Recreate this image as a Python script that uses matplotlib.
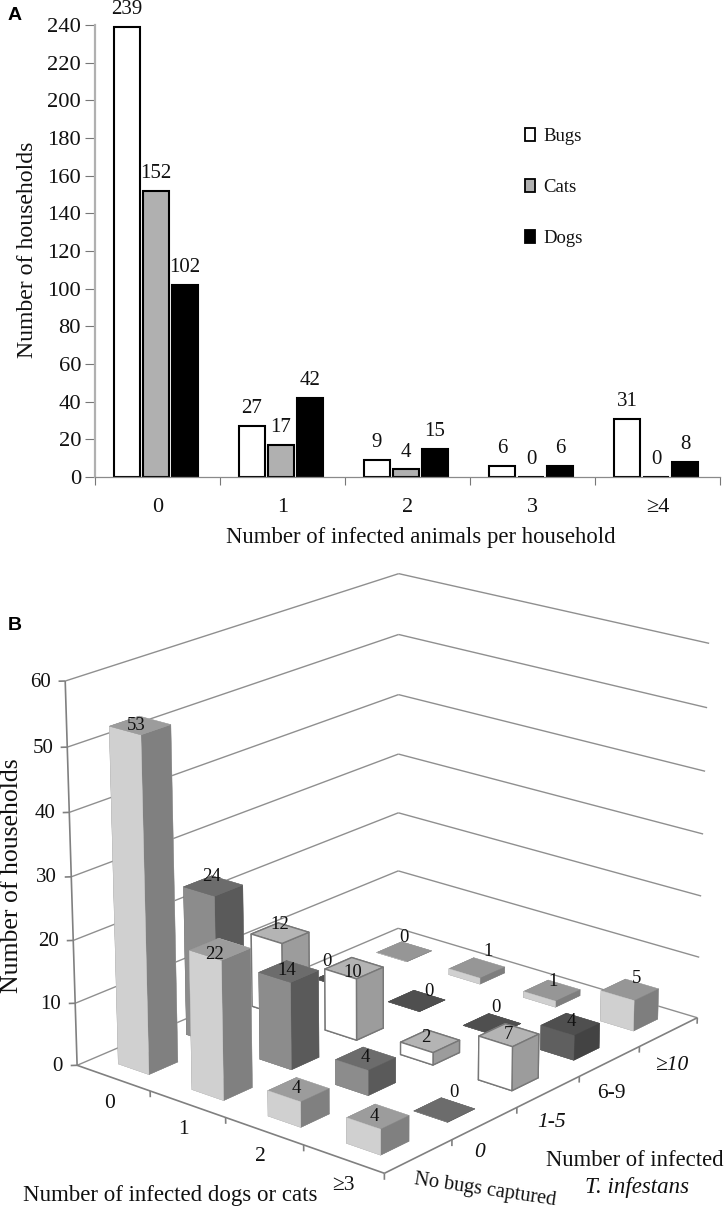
import numpy as np
import matplotlib
matplotlib.use("Agg")
import matplotlib.pyplot as plt
from matplotlib.patches import Patch
from mpl_toolkits.mplot3d.art3d import Line3DCollection

plt.rcParams['font.family'] = ['Liberation Serif', 'DejaVu Serif']

# ---------- Panel A data ----------
a_categories = ['0', '1', '2', '3', '≥4']
a_bugs = [239, 27, 9, 6, 31]
a_cats = [152, 17, 4, 0, 0]
a_dogs = [102, 42, 15, 6, 8]
a_yticks = list(range(0, 241, 20))

# ---------- Panel B data ----------
b_animals = ['0', '1', '2', '≥3']
b_bugs = ['No bugs captured', '0', '1-5', '6-9', '≥10']
b_no_bugs = [53, 22, 4, 4]
b_zero = [24, 14, 4, 0]
b_1_5 = [12, 10, 2, 7]
b_6_9 = [0, 0, 0, 4]
b_10_up = [0, 1, 1, 5]
b_ticks = [0, 10, 20, 30, 40, 50, 60]

# Camera calibration for panel B: (animal axis, bug axis, households) -> image pixel
cal_world = [(0, 0, 0), (4, 0, 0), (4, 5, 0), (0, 5, 0),
             (0, 0, 60), (0, 5, 60), (4, 5, 60),
             (1, 0, 0), (2, 0, 0), (3, 0, 0),
             (4, 1, 0), (4, 2, 0), (4, 3, 0), (4, 4, 0)]
cal_pixel = [(77, 1064), (384, 1171), (697, 1017), (398, 928),
             (65, 681), (399, 574), (709, 643),
             (150, 1092), (226, 1118), (304, 1146),
             (452, 1140), (517, 1108), (579, 1077), (640, 1047)]

W, H = 725, 1212
fig = plt.figure(figsize=(W / 100, H / 100), dpi=100)
GRAY = '#8f8f8f'
INK = '#111111'


def px(x, y):
    return x / W, 1 - y / H


# ---------- Panel A ----------
ax = fig.add_axes([95 / W, 1 - 477 / H, 625 / W, 452 / H])
xs = np.arange(len(a_categories))
step, bw = 0.232, 0.215
series = [(a_bugs, 'white', 'Bugs'), (a_cats, '#b0b0b0', 'Cats'), (a_dogs, 'black', 'Dogs')]
for k, (vals, col, _) in enumerate(series):
    pos = xs - 0.012 + (k - 1) * step
    ax.bar(pos, vals, bw, color=col, edgecolor='black', linewidth=1.5)
    for p, v in zip(pos, vals):
        ax.annotate(str(v), (p, v), xytext=(0, 12.4), textcoords='offset points',
                    ha='center', va='center', fontsize=15, color=INK,
                    annotation_clip=False)
ax.set_xlim(-0.5, 4.5)
ax.set_ylim(0, 240)
for s in ['top', 'right']:
    ax.spines[s].set_visible(False)
ax.spines['left'].set_color('#b0b0b0')
ax.spines['left'].set_linewidth(1.6)
ax.spines['bottom'].set_color('#8a8a8a')
ax.spines['bottom'].set_linewidth(0.9)
ax.set_yticks(a_yticks)
ax.tick_params(axis='y', length=7, width=0.8, color='#777777', labelsize=16.2, pad=3, labelcolor=INK)
ax.set_xticks(np.arange(-0.5, 5, 1))
ax.set_xticklabels([])
ax.tick_params(axis='x', which='major', length=6, width=0.8, color='#777777')
ax.set_xticks(xs, minor=True)
ax.set_xticklabels(a_categories, minor=True)
ax.tick_params(axis='x', which='minor', length=0, labelsize=16, pad=15, labelcolor=INK)
ax.set_ylabel('Number of households', fontsize=17.1, labelpad=0, color=INK)
ax.yaxis.set_label_coords(-57 / 625, 227 / 452)
ax.set_xlabel('Number of infected animals per household', fontsize=16.4, color=INK)
ax.xaxis.set_label_coords((421 - 95) / 625, -(527 - 477) / 452)
handles = [Patch(facecolor=c, edgecolor='black', linewidth=1.3, label=l) for _, c, l in series]
ax.legend(handles=handles, loc='center left', bbox_to_anchor=((525 - 95) / 625, (477 - 187.5) / 452),
          frameon=False, fontsize=13.5, handlelength=0.55, handleheight=0.7, handletextpad=0.45,
          labelspacing=1.81, borderpad=0, borderaxespad=0, labelcolor=INK)
fig.text(*px(8, 15), 'A', family='Liberation Sans', weight='bold', fontsize=14, va='center', ha='left')
fig.text(*px(8, 625), 'B', family='Liberation Sans', weight='bold', fontsize=14, va='center', ha='left')

# ---------- Panel B ----------
ax3 = fig.add_axes([0, 0, 1, W / H], projection='3d', computed_zorder=False)
ax3.set_axis_off()
ax3.patch.set_visible(False)
ax3.set_xlim(0, 4)
ax3.set_ylim(0, 5)
ax3.set_zlim(0, 60)
ax3.set_xticks([])
ax3.set_yticks([])
ax3.set_zticks([])

# Solve the camera from the calibration points
rows = []
for (X, Y, Z), (x, y) in zip(cal_world, cal_pixel):
    v = [X, Y, Z, 1]
    rows.append(v + [0, 0, 0, 0] + [-x * c for c in v])
    rows.append([0, 0, 0, 0] + v + [-y * c for c in v])
P = np.linalg.svd(np.array(rows, float))[2][-1].reshape(3, 4)
P = P / (P[2] @ np.array([2, 2.5, 0, 1]))


def project_matrix():
    Q = np.vstack([P[0], H * P[2] - P[1], P[2] - np.array([0, 0, 0, 0.5]), P[2]])
    A = ax3.transData.get_affine().inverted().get_matrix()
    to_view = np.array([[A[0, 0], A[0, 1], 0, A[0, 2]],
                        [A[1, 0], A[1, 1], 0, A[1, 2]],
                        [0, 0, 1, 0],
                        [0, 0, 0, 1]])
    return to_view @ Q


ax3.get_proj = project_matrix


def label3d(u, v, w, s, dx=0, dy=0, **kw):
    """Text at a point of the 3D scene, nudged by (dx, dy) image pixels."""
    kw.setdefault('ha', 'center')
    kw.setdefault('va', 'center')
    kw.setdefault('color', INK)
    q = P @ np.array([u, v, w, 1.0])
    fig.text(*px(q[0] / q[2] + dx, q[1] / q[2] + dy), s, **kw)


def lines3d(segments, color, lw):
    ax3.add_collection3d(Line3DCollection(segments, colors=color, linewidths=lw, zorder=1), autolim=False)


nU, nV = len(b_animals), len(b_bugs)
grid_segments = []
tick_segments = []
tick_reach = 0.045
for t in b_ticks:
    grid_segments.append([(0, 0, t), (0, nV, t)])
    grid_segments.append([(0, nV, t), (nU, nV, t)])
    tick_segments.append([(-tick_reach, -tick_reach, t), (0, 0, t)])
    label3d(0, 0, t, str(t), dx=-14, dy=1, ha='right', fontsize=15)
lines3d(grid_segments, GRAY, 1.0)
axis_segments = [[(0, 0, 0), (0, 0, 60)], [(0, 0, 0), (nU, 0, 0)], [(nU, 0, 0), (nU, nV, 0)]]
for i in range(1, nU + 1):
    tick_segments.append([(i, 0, 0), (i, 0, -1)])
for j in range(1, nV + 1):
    tick_segments.append([(nU, j, 0), (nU, j, -1)])
lines3d(axis_segments + tick_segments, '#808080', 1.2)

columns = [b_no_bugs, b_zero, b_1_5, b_6_9, b_10_up]
# colours by bug class: top, side facing left, side facing right
col_top = ['#9c9c9c', '#6c6c6c', '#b4b4b4', '#4f4f4f', '#969696']
col_left = ['#d0d0d0', '#8c8c8c', '#ffffff', '#5f5f5f', '#d0d0d0']
col_right = ['#808080', '#5a5a5a', '#9c9c9c', '#434343', '#7e7e7e']
side = 0.42
z = 10
# per-label pixel nudges, (animal, bug) -> (dx, dy) from the centre of the bar top
nudges = {(0, 3): (-17, -17), (1, 3): (12, -9), (2, 3): (4, -17), (3, 1): (10, -17), (0, 4): (0, -14),
          (1, 4): (11, -16), (2, 4): (1, -9), (3, 4): (7, -11), (0, 0): (-4, 0), (1, 0): (-5, 5),
          (1, 1): (-2, -1), (1, 2): (-1, 4), (0, 1): (-2, -9), (0, 2): (0, -9), (2, 2): (-4, -4),
          (2, 0): (-2, -1), (3, 0): (-4, 0), (3, 3): (1, -3)}
for j in reversed(range(nV)):
    for i in range(nU):
        h = columns[j][i]
        faces = [col_top[j], col_top[j], col_left[j], col_left[j], col_right[j], col_right[j]]
        edge = '#777777' if (j == 2) else faces
        ax3.bar3d(i + 0.5 - side / 2, j + 0.5 - side / 2, 0, side, side, h, color=faces,
                  shade=False, zorder=z, edgecolor=edge, linewidth=1.0 if j == 2 else 0.3)
        dx, dy = nudges.get((i, j), (0, -1))
        label3d(i + 0.5, j + 0.5, h, str(h), dx=dx, dy=dy, fontsize=13.5)
        z += 1

animal_dx = [-4, -4, -4, 0]
animal_dy = [25, 25, 25, 27]
for i, s in enumerate(b_animals):
    label3d(i + 0.5, 0, 0, s, dx=animal_dx[i], dy=animal_dy[i], fontsize=15.5)
bug_offsets = [None, (-5, 29), (3, 31), (2, 32), (3, 34)]
bug_italic = [False, True, True, False, True]
for j, s in enumerate(b_bugs):
    if bug_offsets[j] is None:
        continue
    label3d(nU, j + 0.5, 0, s, dx=bug_offsets[j][0], dy=bug_offsets[j][1], fontsize=15.5,
            style='italic' if bug_italic[j] else 'normal')

fig.text(*px(485, 1190.5), b_bugs[0], rotation=-8.5, rotation_mode='anchor', ha='center', va='center',
         fontsize=14.6, color=INK)
fig.text(*px(12, 876), 'Number of households', rotation=90, ha='center', va='center', fontsize=18.5, color=INK)
fig.text(*px(170, 1195), 'Number of infected dogs or cats', ha='center', va='center', fontsize=16.5, color=INK)
fig.text(*px(635, 1160), 'Number of infected', ha='center', va='center', fontsize=16.3, color=INK)
fig.text(*px(637, 1187), 'T. infestans', ha='center', va='center', fontsize=16.5, style='italic', color=INK)

fig.savefig('out.png', dpi=100)
